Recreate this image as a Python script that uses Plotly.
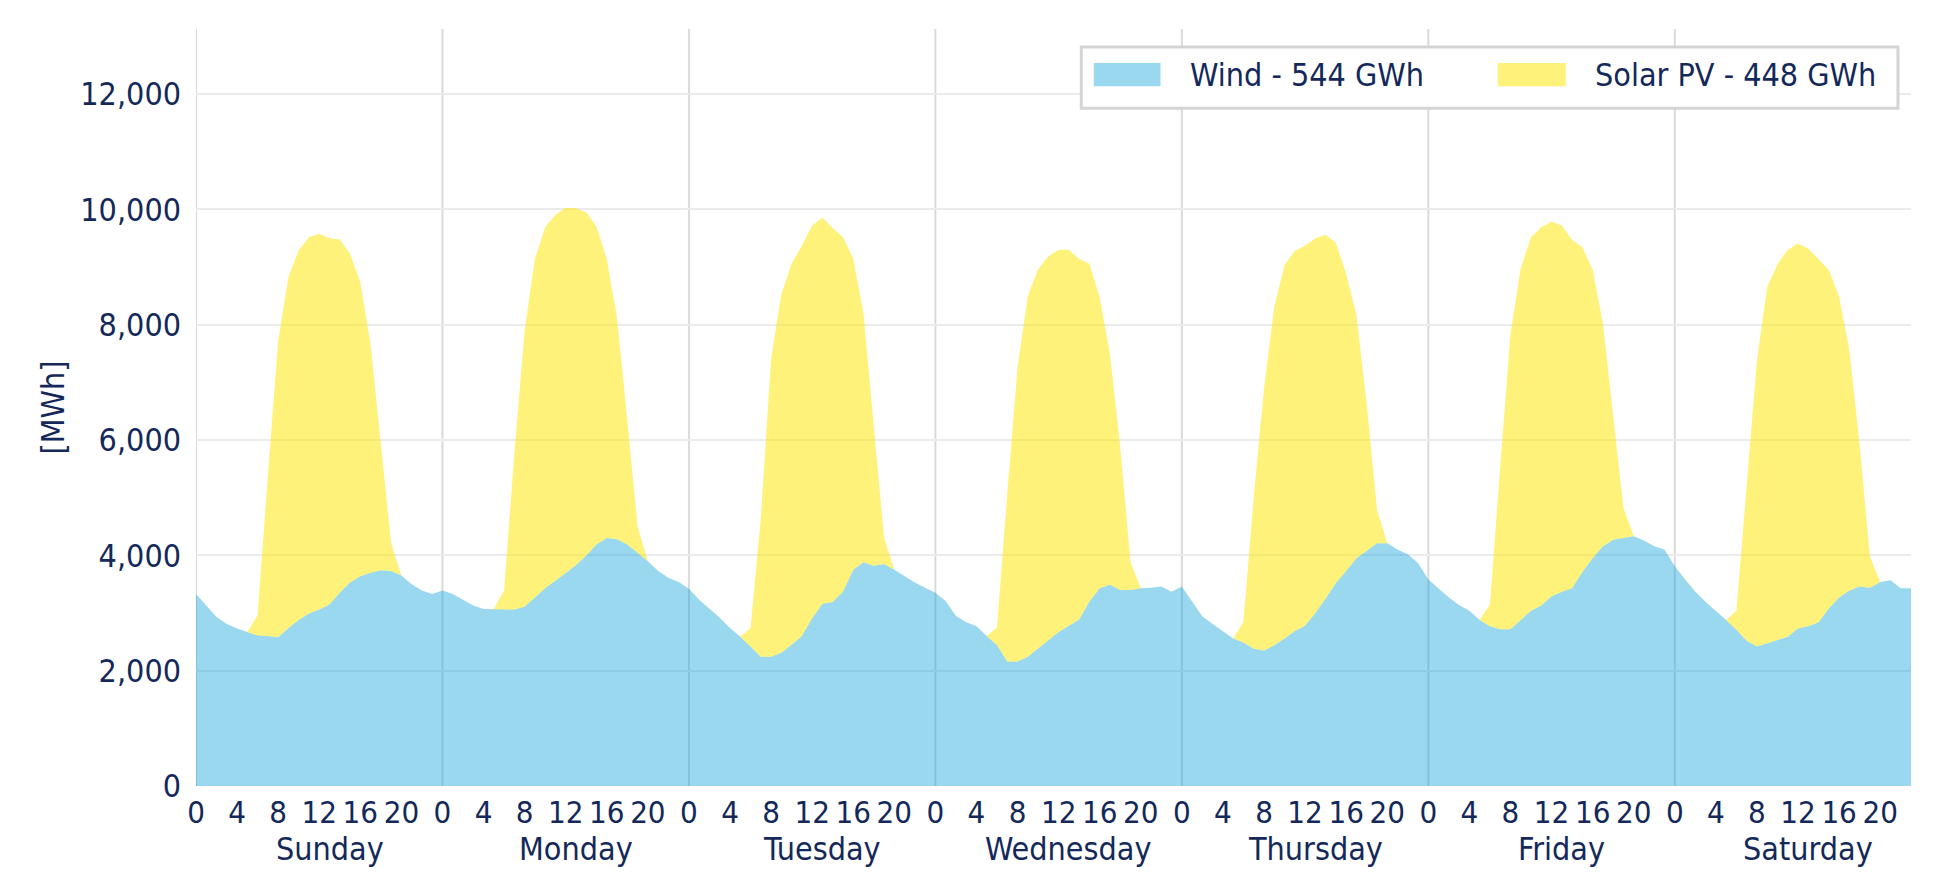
import plotly.graph_objects as go

days = ["Sunday", "Monday", "Tuesday", "Wednesday", "Thursday", "Friday", "Saturday"]
tick_hours = [0, 4, 8, 12, 16, 20]

# hourly wind output per day [MWh]
wind_sun = [3330, 3130, 2930, 2810, 2730, 2670, 2610, 2600, 2580, 2740, 2880, 2990,
            3060, 3150, 3350, 3530, 3640, 3700, 3740, 3730, 3650, 3500, 3390, 3330]
wind_mon = [3390, 3330, 3230, 3130, 3070, 3070, 3060, 3060, 3110, 3270, 3430, 3560,
            3690, 3830, 4000, 4190, 4300, 4280, 4190, 4040, 3900, 3730, 3610, 3540]
wind_tue = [3420, 3230, 3070, 2920, 2740, 2590, 2420, 2240, 2240, 2310, 2450, 2600,
            2910, 3160, 3190, 3370, 3750, 3880, 3820, 3850, 3750, 3640, 3530, 3440]
wind_wed = [3350, 3210, 2950, 2840, 2770, 2600, 2440, 2160, 2160, 2240, 2390, 2530,
            2670, 2780, 2890, 3200, 3430, 3490, 3400, 3400, 3430, 3440, 3460, 3370]
wind_thu = [3460, 3200, 2940, 2810, 2690, 2560, 2490, 2380, 2350, 2440, 2560, 2690,
            2780, 3000, 3250, 3520, 3730, 3950, 4080, 4210, 4210, 4100, 4020, 3870]
wind_fri = [3580, 3430, 3270, 3140, 3040, 2880, 2770, 2720, 2720, 2880, 3040, 3130,
            3290, 3370, 3430, 3710, 3950, 4160, 4270, 4300, 4330, 4260, 4160, 4100]
wind_sat = [3810, 3580, 3370, 3190, 3040, 2880, 2710, 2520, 2420, 2480, 2530, 2590,
            2730, 2770, 2840, 3080, 3270, 3390, 3460, 3440, 3540, 3570, 3430, 3430]

# hourly solar PV output per day [MWh]
solar_sun = [0, 0, 0, 0, 0, 0, 350, 2780, 5140, 6090, 6410, 6530,
             6520, 6350, 6130, 5700, 5100, 3960, 2200, 480, 0, 0, 0, 0]
solar_mon = [0, 0, 0, 0, 0, 0, 330, 2700, 4780, 5870, 6260, 6350,
             6340, 6190, 5950, 5510, 4840, 3840, 2150, 460, 0, 0, 0, 0]
solar_tue = [0, 0, 0, 0, 0, 0, 320, 2400, 5160, 6220, 6610, 6770,
             6810, 6700, 6490, 6150, 5400, 4310, 2420, 460, 0, 0, 0, 0]
solar_wed = [0, 0, 0, 0, 0, 0, 310, 2910, 5100, 6260, 6570, 6660,
             6630, 6520, 6250, 5860, 5040, 4000, 2480, 480, 0, 0, 0, 0]
solar_thu = [0, 0, 0, 0, 0, 0, 360, 2630, 4550, 5870, 6480, 6590,
             6590, 6500, 6310, 5900, 5150, 4220, 2540, 580, 0, 0, 0, 0]
solar_fri = [0, 0, 0, 0, 0, 0, 380, 2810, 5120, 6100, 6480, 6560,
             6500, 6350, 6040, 5640, 5000, 3860, 2170, 520, 0, 0, 0, 0]
solar_sat = [0, 0, 0, 0, 0, 0, 330, 2620, 4960, 6170, 6520, 6710,
             6680, 6550, 6290, 5870, 5220, 4160, 2460, 540, 0, 0, 0, 0]

wind_label = "Wind - 544 GWh"
solar_label = "Solar PV - 448 GWh"

wind = wind_sun + wind_mon + wind_tue + wind_wed + wind_thu + wind_fri + wind_sat
solar = solar_sun + solar_mon + solar_tue + solar_wed + solar_thu + solar_fri + solar_sat
hours = list(range(len(wind)))

navy = "#14295a"
font_family = "'DejaVu Sans Condensed', 'DejaVu Sans', sans-serif"
fs = 32
wind_fill = "rgba(0,157,212,0.4)"
solar_fill = "rgba(253,231,13,0.55)"

fig = go.Figure()
fig.add_trace(go.Scatter(x=hours, y=wind, name=wind_label, mode="lines",
                         stackgroup="one", line=dict(width=0), fillcolor=wind_fill,
                         showlegend=False))
fig.add_trace(go.Scatter(x=hours, y=solar, name=solar_label, mode="lines",
                         stackgroup="one", line=dict(width=0), fillcolor=solar_fill,
                         showlegend=False))

tickvals = []
ticktext = []
for d in range(len(days)):
    for h in tick_hours:
        tickvals.append(d * 24 + h)
        ticktext.append(str(h))

shapes = []
annotations = []
for d, day in enumerate(days):
    shapes.append(dict(type="line", xref="x", yref="paper", x0=d * 24, x1=d * 24,
                       y0=0, y1=1, layer="below",
                       line=dict(color="#dadada", width=2)))
    annotations.append(dict(x=d * 24 + 13, y=-0.083, xref="x", yref="paper",
                            text=day, showarrow=False, yanchor="middle",
                            font=dict(size=fs, color=navy)))

# legend box drawn by hand so the swatches are full blocks
shapes.append(dict(type="rect", xref="paper", yref="paper", x0=0.5162, x1=0.9924,
                   y0=0.8954, y1=0.9762, layer="above", fillcolor="white",
                   line=dict(color="#d4d4d4", width=3)))
shapes.append(dict(type="rect", xref="paper", yref="paper", x0=0.5235, x1=0.5624,
                   y0=0.9245, y1=0.9550, layer="above", fillcolor=wind_fill,
                   line=dict(width=0)))
shapes.append(dict(type="rect", xref="paper", yref="paper", x0=0.7590, x1=0.7987,
                   y0=0.9245, y1=0.9550, layer="above", fillcolor=solar_fill,
                   line=dict(width=0)))
annotations.append(dict(x=0.5785, y=0.9397, xref="paper", yref="paper", text=wind_label,
                        showarrow=False, xanchor="left", yanchor="middle",
                        font=dict(size=fs, color=navy)))
annotations.append(dict(x=0.8145, y=0.9397, xref="paper", yref="paper", text=solar_label,
                        showarrow=False, xanchor="left", yanchor="middle",
                        font=dict(size=fs, color=navy)))

fig.update_layout(
    width=1940, height=894,
    margin=dict(l=188, r=37, t=21, b=116),
    paper_bgcolor="white", plot_bgcolor="white",
    font=dict(family=font_family, size=fs, color=navy),
    shapes=shapes, annotations=annotations,
    xaxis=dict(range=[0, 167], tickmode="array", tickvals=tickvals, ticktext=ticktext,
               showgrid=False, zeroline=False, showline=False, ticks="",
               automargin=False, ticklabelstandoff=5,
               tickfont=dict(size=31, color=navy)),
    yaxis=dict(range=[0, 13130], dtick=2000, tickformat=",d", showgrid=True,
               gridcolor="#ebebeb", gridwidth=2, zeroline=False, showline=False,
               ticks="", automargin=False, ticklabelstandoff=14,
               tickfont=dict(size=fs, color=navy),
               title=dict(text="[MWh]", standoff=6, font=dict(size=fs, color=navy))),
)

fig.write_html("out.html")
